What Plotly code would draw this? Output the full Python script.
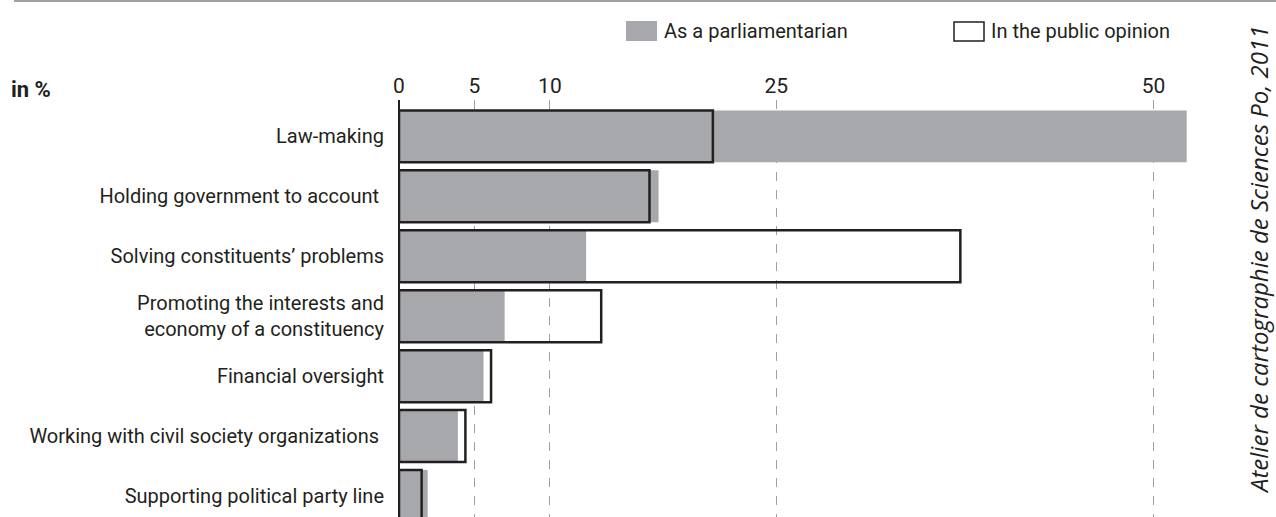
import plotly.graph_objects as go

categories = [
    "Law-making",
    "Holding government to account ",
    "Solving constituents’ problems",
    "Promoting the interests and<br>economy of a constituency",
    "Financial oversight",
    "Working with civil society organizations ",
    "Supporting political party line",
]
parliamentarian = [52.2, 17.2, 12.4, 7.0, 5.6, 3.9, 1.9]
public_opinion = [20.8, 16.6, 37.2, 13.4, 6.1, 4.4, 1.5]
tick_values = [0, 5, 10, 25, 50]
tick_labels = ["0", "5", "10", "25", "50"]

W, H = 1276, 517
ML, MR, MT, MB = 399, 76, 100, 0
PW = W - ML - MR
PH = H - MT - MB

FONT = "Roboto, Liberation Sans, sans-serif"
FS = 20
GRAY = "#a7a8ac"
DARK = "#231f20"

fig = go.Figure()
fig.add_trace(go.Bar(
    y=categories, x=parliamentarian, orientation="h",
    marker=dict(color=GRAY, line=dict(width=0)),
    name="As a parliamentarian", showlegend=False, hoverinfo="x+y",
))
fig.add_trace(go.Bar(
    y=categories, x=public_opinion, orientation="h",
    marker=dict(color="rgba(0,0,0,0)", line=dict(color=DARK, width=2.5)),
    name="In the public opinion", showlegend=False, hoverinfo="x+y",
))

fig.update_layout(
    width=W, height=H,
    margin=dict(l=ML, r=MR, t=MT, b=MB, pad=0),
    paper_bgcolor="white", plot_bgcolor="white",
    barmode="overlay", bargap=0.133,
    font=dict(family=FONT, size=FS, color=DARK),
    xaxis=dict(
        side="top", range=[0, PW / 15.09], automargin=False,
        tickmode="array", tickvals=tick_values, ticktext=tick_labels,
        showgrid=True, gridcolor="#a0a0a0", gridwidth=1, griddash="dash",
        zeroline=True, zerolinecolor=DARK, zerolinewidth=1.5,
        showline=False, ticks="", ticklabelstandoff=2,
        tickfont=dict(family=FONT, size=FS + 1, color=DARK),
        fixedrange=True,
    ),
    yaxis=dict(
        type="category", categoryorder="array", categoryarray=categories,
        range=[6.35, -0.607], automargin=False,
        showgrid=False, zeroline=False, showline=False, ticks="",
        ticklabelstandoff=14,
        tickfont=dict(family=FONT, size=FS, color=DARK),
        fixedrange=True,
    ),
)

def px_x(x):
    return (x - ML) / PW

def px_y(y):
    return 1 - (y - MT) / PH

# top rule
fig.add_shape(type="line", xref="paper", yref="paper",
              x0=px_x(14), x1=px_x(1276), y0=px_y(1), y1=px_y(1),
              line=dict(color="#a0a0a0", width=2))

# legend (manual, larger swatches)
fig.add_shape(type="rect", xref="paper", yref="paper",
              x0=px_x(626), x1=px_x(657), y0=px_y(41), y1=px_y(21),
              fillcolor=GRAY, line=dict(width=0))
fig.add_annotation(xref="paper", yref="paper", x=px_x(662), y=px_y(31),
                   text="As a parliamentarian", showarrow=False,
                   xanchor="left", yanchor="middle",
                   font=dict(family=FONT, size=FS, color=DARK))
fig.add_shape(type="rect", xref="paper", yref="paper",
              x0=px_x(954), x1=px_x(984), y0=px_y(41), y1=px_y(22),
              fillcolor="white", line=dict(color=DARK, width=1.5))
fig.add_annotation(xref="paper", yref="paper", x=px_x(989), y=px_y(31),
                   text="In the public opinion", showarrow=False,
                   xanchor="left", yanchor="middle",
                   font=dict(family=FONT, size=FS, color=DARK))

# unit label
fig.add_annotation(xref="paper", yref="paper", x=px_x(9), y=px_y(90),
                   text="<b>in %</b>", showarrow=False,
                   xanchor="left", yanchor="middle",
                   font=dict(family=FONT, size=FS + 2, color=DARK))

# source (rotated)
fig.add_annotation(xref="paper", yref="paper", x=px_x(1258), y=px_y(260),
                   text="<i>Atelier de cartographie de Sciences Po, 2011</i>",
                   showarrow=False, textangle=-90,
                   xanchor="center", yanchor="middle",
                   font=dict(family="Open Sans, Noto Sans, sans-serif", size=24, color=DARK))

fig.write_html("out.html", config={"displayModeBar": False},
               post_script="document.body.style.margin='0';")
